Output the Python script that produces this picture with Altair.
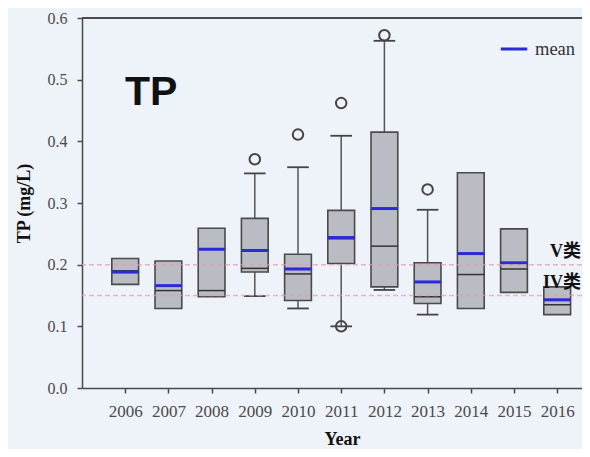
import altair as alt
import pandas as pd

# ---- data ----
years   = [2006, 2007, 2008, 2009, 2010, 2011, 2012, 2013, 2014, 2015, 2016]
q1      = [0.168, 0.129, 0.148, 0.188, 0.142, 0.202, 0.164, 0.137, 0.129, 0.155, 0.119]
q3      = [0.210, 0.206, 0.259, 0.275, 0.217, 0.288, 0.415, 0.203, 0.349, 0.258, 0.164]
medians = [0.190, 0.158, 0.158, 0.194, 0.185, 0.242, 0.230, 0.148, 0.184, 0.193, 0.135]
means   = [0.188, 0.166, 0.225, 0.223, 0.193, 0.244, 0.291, 0.172, 0.218, 0.203, 0.143]

whisker_years = [2009, 2010, 2011, 2012, 2013]
whisker_lo    = [0.149, 0.129, 0.100, 0.159, 0.119]
whisker_hi    = [0.348, 0.358, 0.409, 0.563, 0.289]

outlier_years  = [2009, 2010, 2011, 2011, 2012, 2013]
outlier_values = [0.371, 0.411, 0.462, 0.100, 0.572, 0.322]

ref_values = [0.20, 0.15]
ref_labels = ["V类", "IV类"]

x_ticks = years
y_ticks = [0.0, 0.1, 0.2, 0.3, 0.4, 0.5, 0.6]
y_max = 0.6

# ---- tables ----
box_df = pd.DataFrame({"year": years, "q1": q1, "q3": q3, "median": medians, "mean": means})
wh_df = pd.DataFrame({"year": whisker_years, "lo": whisker_lo, "hi": whisker_hi})
out_df = pd.DataFrame({"year": outlier_years, "value": outlier_values})
ref_df = pd.DataFrame({"ref": ref_values, "label": ref_labels})
top_df = pd.DataFrame({"top": [y_max]})

SERIF = "Liberation Serif, Noto Sans CJK SC"
AX = "#4a4a4a"
W, H = 500, 370
xs = alt.Scale(domain=[2005, 2005 + W / 43.2], nice=False, zero=False)
ys = alt.Scale(domain=[0, y_max], nice=False)

x_bottom = alt.Axis(values=x_ticks, format="d", title="Year", grid=False,
                    labelFont=SERIF, labelFontSize=17, labelColor=AX, labelPadding=10,
                    tickSize=5, tickColor=AX, domainColor=AX, domainWidth=1.5, tickWidth=1.5,
                    titleFont=SERIF, titleFontSize=18, titleFontWeight="bold", titleColor="#111",
                    titleX=260, titleY=51, titleBaseline="middle", titleAlign="center")
y_axis = alt.Axis(values=y_ticks, format=".1f", title="TP (mg/L)", grid=False,
                  labelFont=SERIF, labelFontSize=16, labelColor=AX, labelPadding=10,
                  tickSize=5, tickColor=AX, domainColor=AX, domainWidth=1.5, tickWidth=1.5,
                  titleFont=SERIF, titleFontSize=18, titleFontWeight="bold", titleColor="#111",
                  titleX=-58, titleY=185, titleAngle=270, titleBaseline="middle", titleAlign="center")

base = alt.Chart(box_df).transform_calculate(
    x_lo="datum.year - 0.31", x_hi="datum.year + 0.31", series="'mean'")

whisk_base = alt.Chart(wh_df).transform_calculate(
    c_lo="datum.year - 0.25", c_hi="datum.year + 0.25")

# top frame line of the plot area (at the top of the y domain)
top_frame = alt.Chart(top_df).mark_rule(color=AX, strokeWidth=1.8).encode(
    y=alt.Y("top:Q", scale=ys))

whiskers = whisk_base.mark_rule(color="#555", strokeWidth=1.5).encode(
    x=alt.X("year:Q", scale=xs, axis=x_bottom),
    y=alt.Y("lo:Q", scale=ys, axis=y_axis),
    y2="hi:Q")
cap_lo = whisk_base.mark_rule(color="#444", strokeWidth=1.8).encode(
    x=alt.X("c_lo:Q", scale=xs), x2="c_hi:Q", y=alt.Y("lo:Q", scale=ys))
cap_hi = whisk_base.mark_rule(color="#444", strokeWidth=1.8).encode(
    x=alt.X("c_lo:Q", scale=xs), x2="c_hi:Q", y=alt.Y("hi:Q", scale=ys))

boxes = base.mark_rect(fill="#b9bcc2", stroke="#4a4a4a", strokeWidth=1.6).encode(
    x=alt.X("x_lo:Q", scale=xs), x2="x_hi:Q",
    y=alt.Y("q1:Q", scale=ys), y2="q3:Q")
med = base.mark_rule(color="#333", strokeWidth=1.5).encode(
    x=alt.X("x_lo:Q", scale=xs), x2="x_hi:Q", y=alt.Y("median:Q", scale=ys))
mean = base.mark_rule(strokeWidth=3).encode(
    x=alt.X("x_lo:Q", scale=xs), x2="x_hi:Q", y=alt.Y("mean:Q", scale=ys),
    color=alt.Color("series:N", scale=alt.Scale(domain=["mean"], range=["#2a2ad6"]),
                    legend=alt.Legend(title=None, orient="none", legendX=417, legendY=16,
                                      symbolType="stroke", symbolSize=700, symbolStrokeWidth=3,
                                      labelFont=SERIF, labelFontSize=18.5, labelColor="#333",
                                      padding=0, labelOffset=6)))
outliers = alt.Chart(out_df).mark_point(shape="circle", filled=False, size=110,
                                         stroke="#444", strokeWidth=2, opacity=1).encode(
    x=alt.X("year:Q", scale=xs), y=alt.Y("value:Q", scale=ys))

refs = alt.Chart(ref_df).mark_rule(color="#e79aae", strokeWidth=1.5, strokeDash=[5, 3],
                                   opacity=0.7).encode(y=alt.Y("ref:Q", scale=ys))
ref_text = alt.Chart(ref_df).mark_text(align="right", baseline="alphabetic", dy=-8,
                                       font=SERIF, fontSize=18, fontWeight="bold",
                                       color="#111").encode(
    x=alt.value(499), y=alt.Y("ref:Q", scale=ys), text="label:N")

title = alt.Chart(pd.DataFrame({"t": ["TP"]})).mark_text(
    align="left", baseline="alphabetic", font="Liberation Sans", fontSize=41,
    fontWeight="bold", color="#111").encode(x=alt.value(43), y=alt.value(87), text="t:N")

chart = alt.layer(top_frame, whiskers, cap_lo, cap_hi, boxes, med, mean, outliers,
                  refs, ref_text, title).properties(
    width=W, height=H,
    autosize=alt.AutoSizeParams(type="none"),
    padding={"left": 74, "top": 10, "right": 0, "bottom": 61},
).configure(background="#eef2f9").configure_view(stroke=None)

chart.save("out.html", embed_options={"renderer": "svg", "actions": False})
